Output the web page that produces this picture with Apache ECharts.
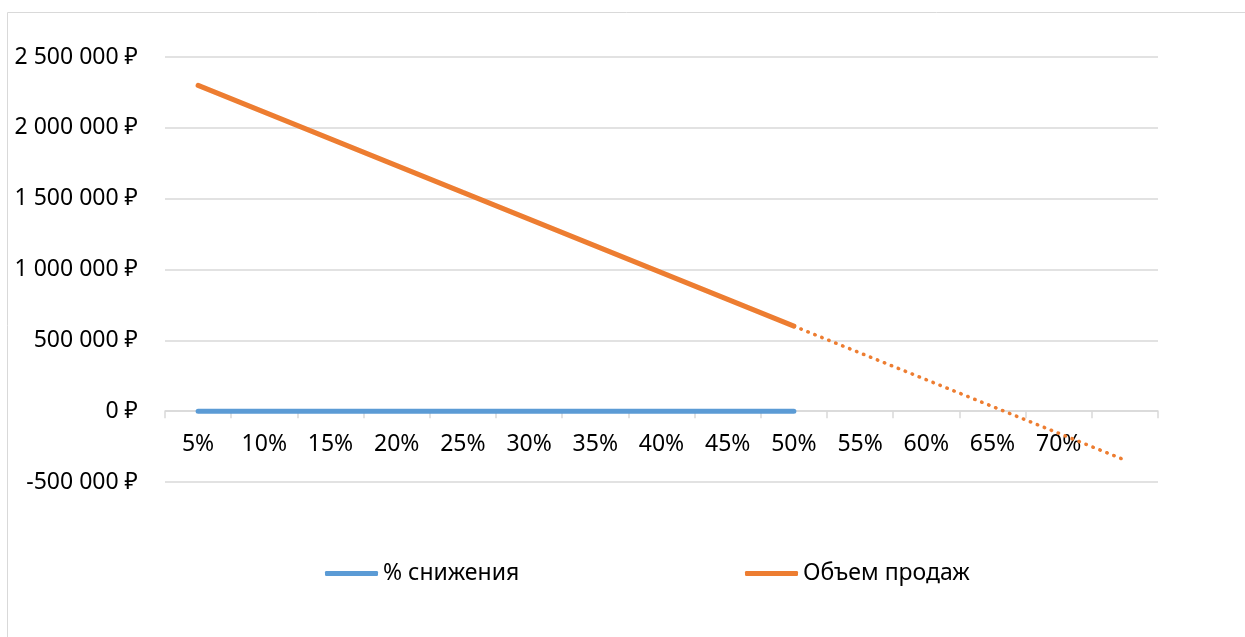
<!DOCTYPE html>
<html>
<head>
<meta charset="utf-8">
<script src="https://cdn.jsdelivr.net/npm/echarts@6/dist/echarts.min.js"></script>
<style>
  html, body { margin: 0; padding: 0; background: #fff; }
  #chart { width: 1245px; height: 637px; }
</style>
</head>
<body>
<div id="chart"></div>
<script>
const categories = ['5%', '10%', '15%', '20%', '25%', '30%', '35%', '40%', '45%', '50%', '55%', '60%', '65%', '70%', ''];
const reductionValues = [0.05, 0.1, 0.15, 0.2, 0.25, 0.3, 0.35, 0.4, 0.45, 0.5];
const salesValues = [2300000, 2111000, 1922000, 1733000, 1544000, 1356000, 1167000, 978000, 789000, 600000];
// linear trendline, forecast 5 periods forward
const trendValues = [null, null, null, null, null, null, null, null, null, 600000, 411000, 222000, 33000, -156000, -345000];

const chart = echarts.init(document.getElementById('chart'));
const font = "'Noto Sans', 'DejaVu Sans', sans-serif";

function rub(v) {
  const s = String(Math.abs(v)).replace(/\B(?=(\d{3})+(?!\d))/g, ' ');
  return (v < 0 ? '-' : '') + s + ' ₽';
}

const option = {
  animation: false,
  textStyle: { fontFamily: font },
  graphic: [{
    type: 'rect',
    shape: { x: 7.5, y: 12.5, width: 1400, height: 800 },
    style: { fill: 'none', stroke: '#d9d9d9', lineWidth: 1 },
    silent: true
  }],
  grid: { left: 165, right: 87, top: 57, bottom: 155 },
  legend: [
    {
      left: 320, top: 557,
      data: ['% снижения'],
      icon: 'roundRect', itemWidth: 53, itemHeight: 5, itemGap: 4,
      textStyle: { fontFamily: font, fontSize: 23, color: '#000' }
    },
    {
      left: 740, top: 557,
      data: ['Объем продаж'],
      icon: 'roundRect', itemWidth: 53, itemHeight: 5, itemGap: 4,
      textStyle: { fontFamily: font, fontSize: 23, color: '#000' }
    }
  ],
  xAxis: {
    type: 'category',
    data: categories,
    boundaryGap: true,
    position: 'bottom',
    offset: -70.8,
    axisLine: { onZero: false, lineStyle: { color: '#d9d9d9', width: 1.5 } },
    axisTick: { show: true, length: 7, lineStyle: { color: '#d9d9d9', width: 1.5 } },
    axisLabel: { color: '#000', fontSize: 23, margin: 22, interval: 0, fontFamily: font }
  },
  yAxis: {
    type: 'value',
    min: -500000,
    max: 2500000,
    interval: 500000,
    axisLine: { show: false },
    axisTick: { show: false },
    splitLine: { lineStyle: { color: '#d9d9d9', width: 1.5 } },
    axisLabel: { color: '#000', fontSize: 23, margin: 27, fontFamily: font, formatter: rub }
  },
  series: [
    {
      name: '% снижения',
      type: 'line',
      data: reductionValues,
      symbol: 'none',
      color: '#5b9bd5',
      lineStyle: { width: 5, cap: 'round', color: '#5b9bd5' }
    },
    {
      name: 'Объем продаж',
      type: 'line',
      data: salesValues,
      symbol: 'none',
      color: '#ed7d31',
      lineStyle: { width: 5, cap: 'round', color: '#ed7d31' },
      z: 3
    },
    {
      name: 'trend',
      type: 'line',
      data: trendValues,
      symbol: 'none',
      color: '#ed7d31',
      lineStyle: { width: 3.5, cap: 'round', type: [0.5, 7], color: '#ed7d31' },
      z: 2
    }
  ]
};

chart.setOption(option);
</script>
</body>
</html>
